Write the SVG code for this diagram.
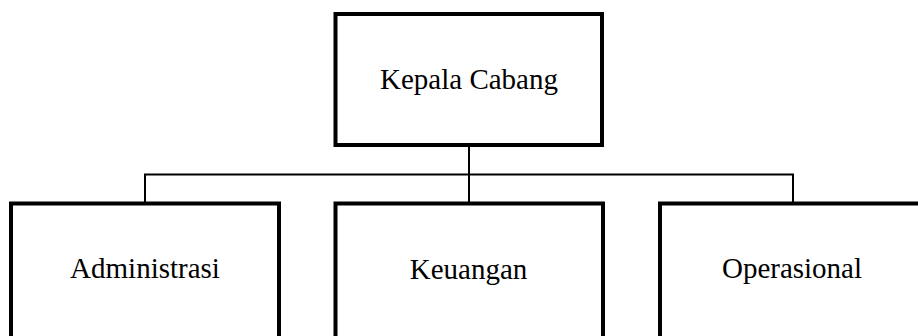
<svg xmlns="http://www.w3.org/2000/svg" width="918" height="336" viewBox="0 0 918 336">
<style>
.box{fill:#fff;stroke:#000;stroke-width:4}
.lbl{font-family:"Liberation Serif","Times New Roman",serif;font-size:29px;fill:#000;text-anchor:middle}
.conn{fill:none;stroke:#000;stroke-width:2}
</style>
<rect width="918" height="336" fill="#fff"/>
<g id="connectors">
<line class="conn" x1="469" y1="146" x2="469" y2="203" stroke-width="3"/>
<polyline class="conn" points="145,203 145,174.5 793,174.5 793,203"/>
</g>
<g id="kepala">
<rect class="box" x="335.5" y="14" width="266.5" height="131"/>
<text class="lbl" x="469" y="89">Kepala Cabang</text>
</g>
<g id="administrasi">
<rect class="box" x="11" y="203.5" width="268" height="140"/>
<text class="lbl" x="145" y="278">Administrasi</text>
</g>
<g id="keuangan">
<rect class="box" x="335.5" y="203.5" width="267.5" height="140"/>
<text class="lbl" x="468.5" y="279">Keuangan</text>
</g>
<g id="operasional">
<rect class="box" x="660" y="203.5" width="270" height="140"/>
<text class="lbl" x="792" y="278">Operasional</text>
</g>
</svg>
